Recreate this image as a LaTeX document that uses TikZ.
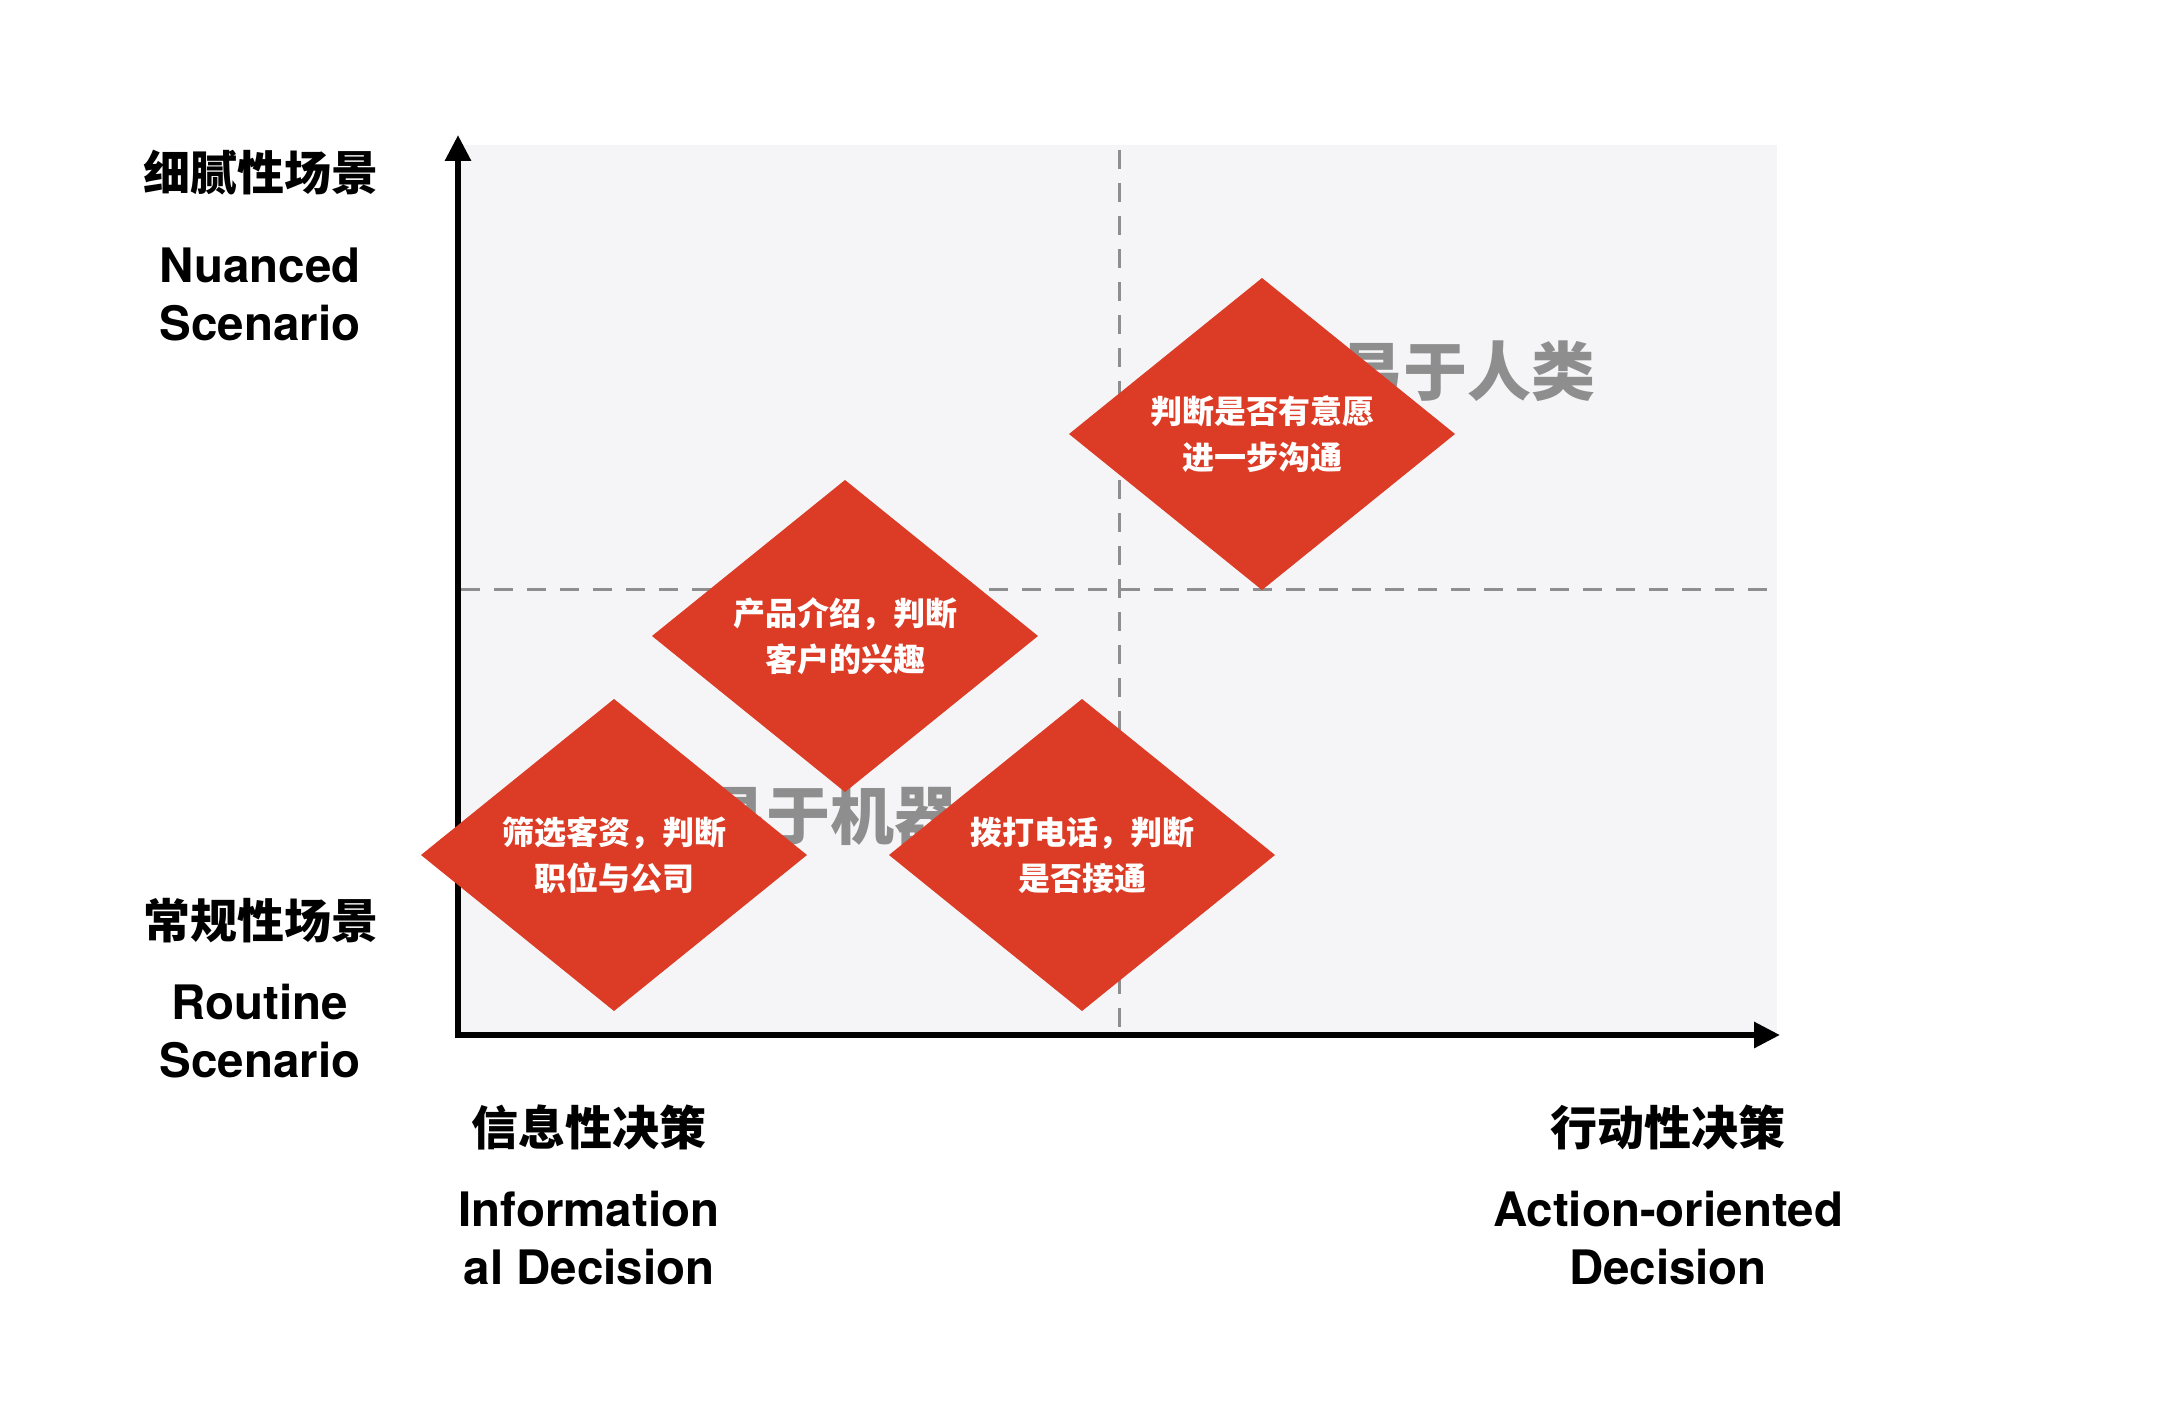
\documentclass[tikz,border=0pt]{standalone}
\usepackage{fontspec}
\setmainfont{TeX Gyre Heros}
\newfontfamily\cjk{Noto Sans CJK SC}
\usetikzlibrary{arrows.meta}
\definecolor{panelbg}{HTML}{F5F5F7}
\definecolor{dred}{HTML}{DC3B26}
\definecolor{dgrey}{HTML}{8E8E8E}
\begin{document}
\begin{tikzpicture}[x=1pt,y=-1pt,
  lbl/.style={font=\fontsize{47.5}{58}\selectfont\bfseries, align=center, inner sep=0pt},
  cjklbl/.style={font=\cjk\bfseries\fontsize{47}{56}\selectfont, inner sep=0pt},
  zone/.style={font=\cjk\bfseries\fontsize{64}{70}\selectfont, text=dgrey, inner sep=0pt},
  dtext/.style={font=\cjk\bfseries\fontsize{32}{46}\selectfont, text=white, align=center, inner sep=0pt},
  guide/.style={draw=dgrey, line width=3pt, dash pattern=on 19pt off 14pt},
  axisline/.style={line width=6pt, -{Triangle[length=26pt,width=25pt]}},
  dshape/.style={fill=dred},
]
\useasboundingbox (0,0) rectangle (2172,1402);

% panel
\fill[panelbg] (461,145) rectangle (1777,1033);

% guide lines
\coordinate (vtop) at (1119,150);
\coordinate (vbot) at (1119,1032);
\coordinate (hl) at (461,589);
\coordinate (hr) at (1777,589);
\draw[guide] (vtop) -- (vbot);
\draw[guide] (hl) -- (hr);

% zone labels
\node[zone] (human) at (1467,371) {易于人类};
\node[zone] (machine) at (830,815) {易于机器};

% axes
\coordinate (origin) at (458,1035);
\coordinate (ytip) at (458,135);
\coordinate (xtip) at (1780,1035);
\draw[axisline] ([yshift=3pt]origin) -- (ytip);
\draw[axisline] ([xshift=-3pt]origin) -- (xtip);

% diamonds
\coordinate (d1) at (1262,434);
\coordinate (d2) at (845,636);
\coordinate (d3) at (614,855);
\coordinate (d4) at (1082,855);
\foreach \c in {d1,d2,d3,d4}{
  \fill[dshape] (\c) ++(-193,0) -- ++(193,-156) -- ++(193,156) -- ++(-193,156) -- cycle;
}
\node[dtext] (t1) at (d1) {判断是否有意愿\\进一步沟通};
\node[dtext] (t2) at (d2) {产品介绍，判断\\客户的兴趣};
\node[dtext] (t3) at (d3) {筛选客资，判断\\职位与公司};
\node[dtext] (t4) at (d4) {拨打电话，判断\\是否接通};

% left labels
\node[cjklbl] (nuzh) at (261,173) {细腻性场景};
\node[lbl] (nuen) at (260,294) {Nuanced\\Scenario};
\node[cjklbl] (rozh) at (261,921) {常规性场景};
\node[lbl] (roen) at (260,1031) {Routine\\Scenario};

% bottom labels
\node[cjklbl] (infzh) at (589,1127) {信息性决策};
\node[lbl] (infen) at (589,1238) {Information\\al Decision};
\node[cjklbl] (actzh) at (1668,1127) {行动性决策};
\node[lbl] (acten) at (1668,1238) {Action-oriented\\Decision};
\end{tikzpicture}
\end{document}
